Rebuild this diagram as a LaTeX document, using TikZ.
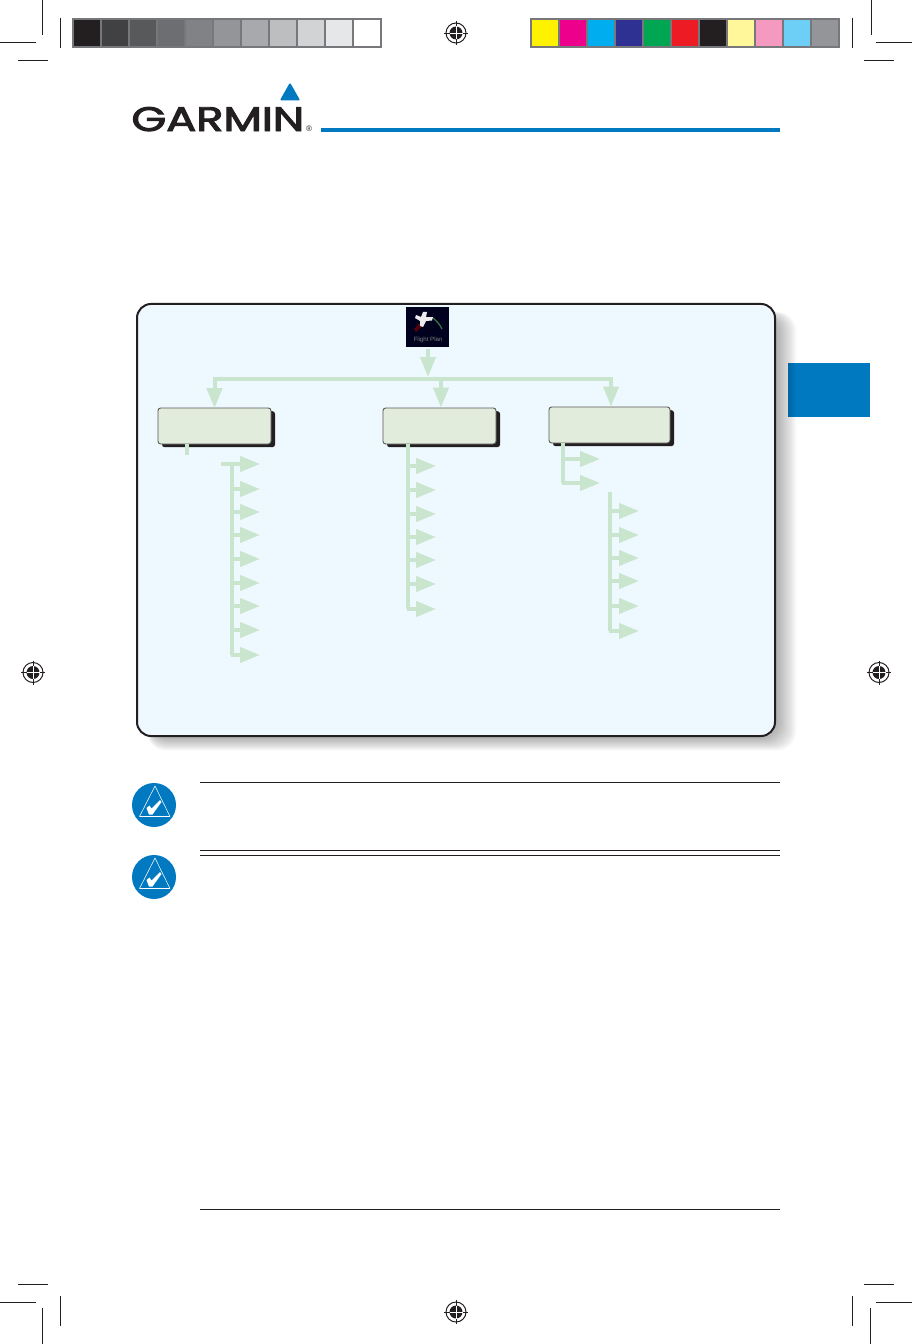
\documentclass[tikz,border=0pt]{standalone}
\usepackage{fontspec}
\usetikzlibrary{arrows.meta,shadows,calc}
\newfontfamily\logofont[FakeBold=2.8]{Poppins}
\setsansfont{Liberation Sans}
\definecolor{gblue}{HTML}{0079C1}
\definecolor{ink}{HTML}{231F20}
\definecolor{flow}{HTML}{C9E5CE}
\definecolor{panelbg}{HTML}{EDF9FE}
\definecolor{boxbg}{HTML}{E1ECDC}
\definecolor{barframe}{HTML}{77787B}
\tikzset{
  crop/.style={draw=ink,line width=0.6pt},
  rule/.style={draw=ink,line width=0.9pt},
  patch/.style={minimum width=19.7pt,minimum height=19.5pt,inner sep=0pt,outer sep=0pt,anchor=north west},
  trunk/.style={draw=flow,line width=3pt,line cap=butt},
  arr/.style={draw=flow,line width=3pt,line cap=butt,-{Triangle[length=15pt,width=11.25pt,fill=flow]}},
  menubox/.style={draw=ink!75,line width=0.7pt,fill=boxbg,rounded corners=2pt,inner sep=0pt,minimum height=27pt,
    drop shadow={shadow xshift=3pt,shadow yshift=-2.4pt,fill=ink,opacity=1}},
  regmark/.pic={
    \draw[ink,line width=0.75pt] (0,0) circle (10);
    \fill[ink] (0,0) circle (6.5);
    \draw[ink,line width=0.6pt] (-12,0)--(-6,0) (6,0)--(12,0) (0,-12)--(0,-6) (0,6)--(0,12);
    \draw[white,line width=0.4pt] (-6.5,0)--(6.5,0) (0,-6.5)--(0,6.5);
  },
  noteicon/.pic={
    \fill[gblue] (0,0) circle (22);
    \draw[white,line width=0.4pt,line join=round] (1,-19)--(-14.5,11.5)--(16,11.5)--cycle;
    \fill[white] (-7.5,3)--(-4.5,0.5)--(-2.5,3.5)--(6,-5)--(7.5,-3)--(-1.5,9.5)--(-5,9.5)--cycle;
  }
}
\begin{document}
\begin{tikzpicture}[x=0.75pt,y=-0.75pt]
\useasboundingbox (0,0) rectangle (912,1344);
% crop marks
\draw[crop] (42.5,0)--(42.5,35) (0,42.5)--(36,42.5) (60.5,18)--(60.5,48) (18,60.5)--(48,60.5);
\draw[crop] (871,0)--(871,35) (876,42.5)--(912,42.5) (852.5,18)--(852.5,48) (864,60.5)--(894,60.5);
\draw[crop] (42.5,1308)--(42.5,1344) (0,1302.5)--(36,1302.5) (60.5,1296)--(60.5,1326) (18,1284.5)--(48,1284.5);
\draw[crop] (870.5,1308)--(870.5,1344) (876,1302.5)--(912,1302.5) (852.5,1296)--(852.5,1326) (864,1284.5)--(894,1284.5);
% registration marks
\pic at (456,33) {regmark};
\pic at (33,672.5) {regmark};
\pic at (879,672.5) {regmark};
\pic at (456,1312) {regmark};
% colour bars
\fill[barframe] (72,18) rectangle (382,48);
\foreach \c [count=\i from 0] in {231F20,414042,58595B,6D6E71,808285,939598,A7A9AC,BCBEC0,D1D3D4,E6E7E8,FFFFFF}{
  \definecolor{tmpc}{HTML}{\c}
  \node[patch,fill=tmpc] (g\i) at ({74+28*\i},20) {};
}
\fill[barframe] (530,18) rectangle (840,48);
\foreach \c [count=\i from 0] in {FFF200,EC008C,00AEEF,2E3192,00A651,ED1C24,231F20,FFF799,F49AC1,6DCFF6,939598}{
  \definecolor{tmpc}{HTML}{\c}
  \node[patch,fill=tmpc] (c\i) at ({532+28*\i},20) {};
}
% logo
\fill[gblue,rounded corners=1pt] (290,82.5)--(300.2,100.5)--(279.8,100.5)--cycle;
\node[inner sep=0pt,outer sep=0pt,anchor=north west,text=ink] (logo) at (131.5,107)
  {\resizebox{129.5pt}{18pt}{\logofont GARMIN}};
\node[inner sep=0pt,anchor=center,text=ink] (reg) at (309,129) {\sffamily\fontsize{6pt}{6pt}\selectfont ®};
\fill[gblue] (321,128) rectangle (780,132);
% side tab
\fill[gblue] (788,363) rectangle (870,416.5);
% panel shadow
\foreach \k in {0,...,15}{
  \fill[black,opacity=0.022,rounded corners=14pt]
    ({150-\k*0.2},{315-\k*0.2}) rectangle ({776+\k*1.35},{737+\k*0.9});
}
% panel
\node[draw=ink,line width=1.5pt,fill=panelbg,rounded corners=10.5pt,inner sep=0pt,
  minimum width=478.5pt,minimum height=324pt] (panel) at (456,520) {};
% icon
\node[fill=black!88!blue,inner sep=0pt,minimum width=32.25pt,minimum height=30pt] (icon) at (427.5,327) {};
\fill[red!50!black,opacity=.7] (414,329) -- (421,322) -- (424,324) -- (416,332) -- cycle;
\draw[green!35!gray,opacity=.7,line width=0.9pt] (433,318) .. controls (437,321) and (440,325) .. (442,329);
\fill[white!85!gray] (416,315)--(421,317)--(423,312)--(427,312)--(426,317)--(433,317)--(432,320.5)--(426,321)--(423,327)--(420,326)--(420,321)--(415,318)--cycle;
\node[text=white!50!black,inner sep=0pt] (iconlabel) at (428,340) {\sffamily\fontsize{4.6pt}{5pt}\selectfont Flight Plan};
% menu boxes
\node[menubox,minimum width=84.75pt] (box1) at (214.5,426) {};
\node[menubox,minimum width=84.75pt] (box2) at (439.5,426) {};
\node[menubox,minimum width=90.75pt] (box3) at (609.5,425) {};
% top bus
\coordinate (busC) at (428,377);
\coordinate (busL) at (213,379);
\coordinate (busR) at (613,379);
\draw[arr,shorten <=1.5pt] (icon.south -| busC) -- (busC);
\draw[trunk] (busL) -- (busR);
\draw[arr,shorten >=-0.5pt] (box1.north |- busL) -- (box1.north);
\draw[arr] ([xshift=1.1pt]box2.north |- busL) -- ([xshift=1.1pt]box2.north);
\draw[arr] ([xshift=1.1pt]box3.north |- busL) -- ([xshift=1.1pt]box3.north);
% box 1 tree
\coordinate (stub) at (187,455);
\draw[trunk] (box1.south -| stub) -- (stub);
\coordinate (ta) at (232,464);
\coordinate (tb) at (232,655);
\coordinate (th) at (221,464);
\draw[trunk] (th) -- (ta -| 240,0);
\draw[trunk] (ta) -- (tb);
\foreach \y [count=\i] in {464,489,512,535,559,583,606,630,655}{
  \coordinate (A\i) at (260,\y);
  \draw[arr] (ta |- A\i) ++(-1.5,0) -- (A\i);
}
% box 2 tree
\coordinate (ua) at (408,609);
\draw[trunk] (box2.south -| ua) -- (ua);
\foreach \y [count=\i] in {466,490,514,537,560,584,609}{
  \coordinate (B\i) at (436,\y);
  \draw[arr] (ua |- B\i) ++(-1.5,0) -- (B\i);
}
% box 3 tree
\coordinate (va) at (563,483);
\draw[trunk] (box3.south -| va) -- (va);
\foreach \y [count=\i] in {459,483}{
  \coordinate (C\i) at (600,\y);
  \draw[arr] (va |- C\i) ++(-1.5,0) -- (C\i);
}
% sub tree
\coordinate (wa) at (610,492);
\coordinate (wb) at (610,631);
\draw[trunk] (wa) -- (wb);
\foreach \y [count=\i] in {511,535,558,581,606,631}{
  \coordinate (D\i) at (639,\y);
  \draw[arr] (wa |- D\i) ++(-1.5,0) -- (D\i);
}
% notes
\pic at (154,805) {noteicon};
\pic at (154,877) {noteicon};
\draw[rule] (200,782.5)--(780,782.5);
\draw[rule] (200,850.5)--(780,850.5);
\draw[rule] (200,855.5)--(780,855.5);
\draw[rule] (200,1209.5)--(780,1209.5);
\end{tikzpicture}
\end{document}
